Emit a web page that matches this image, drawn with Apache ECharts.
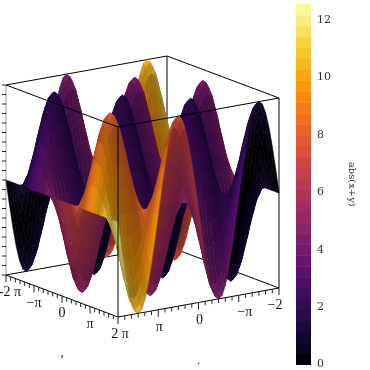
<!DOCTYPE html>
<html><head><meta charset="utf-8">
<style>html,body{margin:0;padding:0;background:#fff}#c{width:370px;height:370px}</style>
<script src="https://cdn.jsdelivr.net/npm/echarts@6/dist/echarts.min.js"></script>
</head><body><div id="c"></div>
<script>
// surface profiles (height in hundredths of the box half-height), one column per step along the right floor axis
const ridge100 = [0,-26,-50,-71,-87,-97,-100,-97,-87,-71,-50,-26,0,26,50,71,87,97,100,97,87,71,50,26,0,-26,-50,-71,-87,-97,-100,-97,-87,-71,-50,-26,0,26,50,71,87,97,100,97,87,71,50,26,0];
const ridge97 = [0,-25,-48,-68,-84,-93,-97,-93,-84,-68,-48,-25,0,25,48,68,84,93,97,93,84,68,48,25,0,-25,-48,-68,-84,-93,-97,-93,-84,-68,-48,-25,0,25,48,68,84,93,97,93,84,68,48,25,0];
const ridge87 = [0,-22,-43,-61,-75,-84,-87,-84,-75,-61,-43,-22,0,22,43,61,75,84,87,84,75,61,43,22,0,-22,-43,-61,-75,-84,-87,-84,-75,-61,-43,-22,0,22,43,61,75,84,87,84,75,61,43,22,0];
const ridge71 = [0,-18,-35,-50,-61,-68,-71,-68,-61,-50,-35,-18,0,18,35,50,61,68,71,68,61,50,35,18,0,-18,-35,-50,-61,-68,-71,-68,-61,-50,-35,-18,0,18,35,50,61,68,71,68,61,50,35,18,0];
const ridge50 = [0,-13,-25,-35,-43,-48,-50,-48,-43,-35,-25,-13,0,13,25,35,43,48,50,48,43,35,25,13,0,-13,-25,-35,-43,-48,-50,-48,-43,-35,-25,-13,0,13,25,35,43,48,50,48,43,35,25,13,0];
const ridge26 = [0,-7,-13,-18,-22,-25,-26,-25,-22,-18,-13,-7,0,7,13,18,22,25,26,25,22,18,13,7,0,-7,-13,-18,-22,-25,-26,-25,-22,-18,-13,-7,0,7,13,18,22,25,26,25,22,18,13,7,0];
const flat = [0,0,0,0,0,0,0,0,0,0,0,0,0,0,0,0,0,0,0,0,0,0,0,0,0,0,0,0,0,0,0,0,0,0,0,0,0,0,0,0,0,0,0,0,0,0,0,0,0];
const trough26 = [0,7,13,18,22,25,26,25,22,18,13,7,0,-7,-13,-18,-22,-25,-26,-25,-22,-18,-13,-7,0,7,13,18,22,25,26,25,22,18,13,7,0,-7,-13,-18,-22,-25,-26,-25,-22,-18,-13,-7,0];
const trough50 = [0,13,25,35,43,48,50,48,43,35,25,13,0,-13,-25,-35,-43,-48,-50,-48,-43,-35,-25,-13,0,13,25,35,43,48,50,48,43,35,25,13,0,-13,-25,-35,-43,-48,-50,-48,-43,-35,-25,-13,0];
const trough71 = [0,18,35,50,61,68,71,68,61,50,35,18,0,-18,-35,-50,-61,-68,-71,-68,-61,-50,-35,-18,0,18,35,50,61,68,71,68,61,50,35,18,0,-18,-35,-50,-61,-68,-71,-68,-61,-50,-35,-18,0];
const trough87 = [0,22,43,61,75,84,87,84,75,61,43,22,0,-22,-43,-61,-75,-84,-87,-84,-75,-61,-43,-22,0,22,43,61,75,84,87,84,75,61,43,22,0,-22,-43,-61,-75,-84,-87,-84,-75,-61,-43,-22,0];
const trough97 = [0,25,48,68,84,93,97,93,84,68,48,25,0,-25,-48,-68,-84,-93,-97,-93,-84,-68,-48,-25,0,25,48,68,84,93,97,93,84,68,48,25,0,-25,-48,-68,-84,-93,-97,-93,-84,-68,-48,-25,0];
const trough100 = [0,26,50,71,87,97,100,97,87,71,50,26,0,-26,-50,-71,-87,-97,-100,-97,-87,-71,-50,-26,0,26,50,71,87,97,100,97,87,71,50,26,0,-26,-50,-71,-87,-97,-100,-97,-87,-71,-50,-26,0];
// rows step along the left floor axis, from 2 pi to -2 pi
const surfaceZ = [
 ridge100,ridge97,ridge87,ridge71,ridge50,ridge26,flat,trough26,trough50,trough71,trough87,trough97,
 trough100,trough97,trough87,trough71,trough50,trough26,flat,ridge26,ridge50,ridge71,ridge87,ridge97,
 ridge100,ridge97,ridge87,ridge71,ridge50,ridge26,flat,trough26,trough50,trough71,trough87,trough97,
 trough100,trough97,trough87,trough71,trough50,trough26,flat,ridge26,ridge50,ridge71,ridge87,ridge97,
 ridge100];
// colour value abs(x+y) for each diagonal of the grid
const diagonalColourValue = [12.57,12.30,12.04,11.78,11.52,11.26,11.00,10.73,10.47,10.21,9.95,9.69,9.42,9.16,8.90,8.64,8.38,8.12,7.85,7.59,7.33,7.07,6.81,6.54,6.28,6.02,5.76,5.50,5.24,4.97,4.71,4.45,4.19,3.93,3.67,3.40,3.14,2.88,2.62,2.36,2.09,1.83,1.57,1.31,1.05,0.79,0.52,0.26,0,0.26,0.52,0.79,1.05,1.31,1.57,1.83,2.09,2.36,2.62,2.88,3.14,3.40,3.67,3.93,4.19,4.45,4.71,4.97,5.24,5.50,5.76,6.02,6.28,6.54,6.81,7.07,7.33,7.59,7.85,8.12,8.38,8.64,8.90,9.16,9.42,9.69,9.95,10.21,10.47,10.73,11.00,11.26,11.52,11.78,12.04,12.30,12.57];
const colourStops = ['#000004','#1b0c41','#4a0c6b','#781c6d','#a52c60','#cf4446','#ed6925','#fb9b06','#f7d13d','#fcffa4'];
const colourBarTicks = [0,2,4,6,8,10,12];
const colourBarMax = 12.566;
const colourBarBands = 33;
const colourBarTitle = 'abs(x+y)';
const leftFloorLabels = [['2 π',0],['π',0.25],['0',0.5],['−π',0.75],['-2 π',1]];
const rightFloorLabels = [['π',0.25],['0',0.5],['−π',0.75],['−2',1]];
const floorTickCount = 24;
const heightTickCount = 20;
const axisTitles = [[',',0.5,0],['.',0.5,1]];

// orthographic view of the unit box: corners of the plot frame in the hidden 370-unit plane
const origin=[118,222], alongLeft=[-112,-42], alongRight=[161,-29], up=95;
function project(s,t,z){return [origin[0]+s*alongLeft[0]+t*alongRight[0], origin[1]+s*alongLeft[1]+t*alongRight[1]-z*up];}
function lerpHex(a,b,f){const p=h=>[1,3,5].map(i=>parseInt(h.substr(i,2),16));const A=p(a),B=p(b);return A.map((v,i)=>v+(B[i]-v)*f);}
function colourAt(v){const f=Math.min(0.9999,Math.max(0,v/colourBarMax))*(colourStops.length-1);const i=Math.floor(f);return lerpHex(colourStops[i],colourStops[i+1],f-i);}
function css(c,k){return 'rgb('+c.map(v=>Math.round(Math.min(255,v*k))).join(',')+')';}

const N=surfaceZ.length-1;
const cells=[];
for(let i=N-1;i>=0;i--)for(let j=N-1;j>=0;j--)cells.push([i,j]);

function renderCell(params,api){
  const i=api.value(0),j=api.value(1);
  const Z=(a,b)=>surfaceZ[a][b]/100;
  const P=(a,b)=>api.coord(project(a/N,b/N,Z(a,b)));
  const pts=[P(i,j),P(i,j+1),P(i+1,j+1),P(i+1,j)];
  const g=((Z(i,j+1)+Z(i+1,j+1))-(Z(i,j)+Z(i+1,j)))/2/0.26;
  const h=((Z(i+1,j)+Z(i+1,j+1))-(Z(i,j)+Z(i,j+1)))/2/0.26;
  const slope=Math.sqrt(g*g+h*h);
  const k=0.62+0.36*Math.pow(Math.max(g,0),2)+0.16*Math.pow(Math.max(-g,0),3)+0.4*Math.max(0,1-1.6*slope);
  const col=css(colourAt(diagonalColourValue[i+j+1]),k);
  const children=[{type:'polygon',shape:{points:pts},style:{fill:col,stroke:col,lineWidth:0.6}}];
  if(i%6===0)children.push({type:'line',shape:{x1:pts[0][0],y1:pts[0][1],x2:pts[1][0],y2:pts[1][1]},style:{stroke:'rgba(0,0,0,0.3)',lineWidth:0.5}});
  if(j%3===0&&i%2===0)children.push({type:'line',shape:{x1:pts[0][0],y1:pts[0][1],x2:pts[3][0],y2:pts[3][1]},style:{stroke:'rgba(0,0,0,0.3)',lineWidth:0.5}});
  return {type:'group',children};
}
function edgeSeries(edges,z,colour){
  return {type:'custom',coordinateSystem:'cartesian2d',xAxisIndex:0,yAxisIndex:0,z,silent:true,clip:false,data:edges,
    renderItem(p,api){const a=api.coord(project(api.value(0),api.value(1),api.value(2))),b=api.coord(project(api.value(3),api.value(4),api.value(5)));
      return {type:'line',shape:{x1:a[0],y1:a[1],x2:b[0],y2:b[1]},style:{stroke:colour||'#000',lineWidth:1}};}};
}
const backEdges=[[1,1,1,0,1,1],[1,1,1,1,0,1],[1,1,-1,1,1,1],[1,1,-1,1,0,-1],[1,1,-1,0,1,-1]];
const sideEdges=[[0,1,-1,0,1,1]];
const leftEdge=[[1,0,-1,1,0,1]];
const frontEdges=[[0,0,1,1,0,1],[0,0,1,0,1,1],[0,0,-1,0,0,1],[0,0,-1,1,0,-1],[0,0,-1,0,1,-1]];

const floorTicks=[];
for(let n=0;n<=floorTickCount;n++){const f=n/floorTickCount,major=n%6===0;floorTicks.push([f,0,major?7:4]);if(n>0)floorTicks.push([0,f,major?7:4]);}
const heightTicks=[];for(let n=0;n<=heightTickCount;n++)heightTicks.push(-1+2*n/heightTickCount);

const labelFont='"Liberation Serif","DejaVu Serif",serif';
const labels=leftFloorLabels.map(l=>[l[0],l[1],0,l[1]===1?4:(l[1]===0?2:0)]).concat(rightFloorLabels.map(l=>[l[0],0,l[1],l[1]===1?-4:(l[1]===0.75?6:1)]));

const option={
  animation:false,
  grid:[{left:0,top:0,width:370,height:370,show:false},{left:296,top:4,width:15,height:366,show:false}],
  xAxis:[{type:'value',min:0,max:370,show:false,gridIndex:0},{type:'value',min:0,max:1,show:false,gridIndex:1}],
  yAxis:[{type:'value',min:0,max:370,inverse:true,show:false,gridIndex:0},
    {type:'value',gridIndex:1,min:0,max:colourBarMax,interval:2,position:'right',
     axisLine:{show:false},axisTick:{show:false},splitLine:{show:false},
     axisLabel:{show:true,showMaxLabel:false,margin:6,fontFamily:'"DejaVu Serif",serif',fontSize:11,color:'#333',padding:[0,0,8,0],
       formatter:v=>colourBarTicks.includes(v)?String(v):''},
     name:colourBarTitle,nameLocation:'middle',nameRotate:-90,nameGap:36,nameTextStyle:{fontFamily:'"DejaVu Serif",serif',fontSize:10,color:'#333'}}],
  series:[
    edgeSeries(backEdges,1),
    edgeSeries(leftEdge,1,'#999'),
    {type:'custom',coordinateSystem:'cartesian2d',xAxisIndex:0,yAxisIndex:0,z:2,silent:true,clip:false,progressive:0,data:cells,renderItem:renderCell},
    edgeSeries(sideEdges,3),
    edgeSeries(frontEdges,3),
    {type:'custom',coordinateSystem:'cartesian2d',xAxisIndex:0,yAxisIndex:0,z:3,silent:true,clip:false,data:floorTicks,
      renderItem(p,api){const a=api.coord(project(api.value(0),api.value(1),-1));const len=api.value(2);
        return {type:'line',shape:{x1:a[0],y1:a[1],x2:a[0],y2:a[1]+len},style:{stroke:'#222',lineWidth:1}};}},
    {type:'custom',coordinateSystem:'cartesian2d',xAxisIndex:0,yAxisIndex:0,z:3,silent:true,clip:false,data:heightTicks,
      renderItem(p,api){const a=api.coord(project(1,0,api.value(0)));
        return {type:'line',shape:{x1:a[0]-4,y1:a[1],x2:a[0],y2:a[1]},style:{stroke:'#222',lineWidth:1}};}},
    {type:'custom',coordinateSystem:'cartesian2d',xAxisIndex:0,yAxisIndex:0,z:4,silent:true,clip:false,data:labels.map((l,i)=>[i]),
      renderItem(p,api){const l=labels[api.value(0)];const a=api.coord(project(l[1],l[2],-1));
        return {type:'text',x:a[0]+l[3],y:a[1]+17.5,style:{text:l[0],align:'center',verticalAlign:'middle',font:'14px '+labelFont,fill:'#111'}};}},
    {type:'custom',coordinateSystem:'cartesian2d',xAxisIndex:0,yAxisIndex:0,z:4,silent:true,clip:false,data:axisTitles.map((l,i)=>[i]),
      renderItem(p,api){const l=axisTitles[api.value(0)];const a=api.coord(project(l[2]?0:l[1],l[2]?l[1]:0,-1));
        return {type:'text',x:a[0],y:a[1]+(l[2]?58:57),style:{text:l[0],align:'center',verticalAlign:'middle',font:'13px '+labelFont,fill:'#111'}};}},
    {type:'custom',coordinateSystem:'cartesian2d',xAxisIndex:1,yAxisIndex:1,silent:true,clip:false,
      data:Array.from({length:colourBarBands},(_,i)=>[i]),
      renderItem(p,api){const n=api.value(0);const lo=n/colourBarBands*colourBarMax,hi=(n+1)/colourBarBands*colourBarMax;
        const a=api.coord([0,lo]),b=api.coord([1,hi]);
        return {type:'rect',shape:{x:a[0],y:b[1],width:b[0]-a[0],height:a[1]-b[1]+0.5},style:{fill:css(colourAt((n+0.5)/colourBarBands*colourBarMax),1)}};}}
  ]
};
const chart=echarts.init(document.getElementById('c'),null,{renderer:'canvas'});
chart.setOption(option);
</script></body></html>
